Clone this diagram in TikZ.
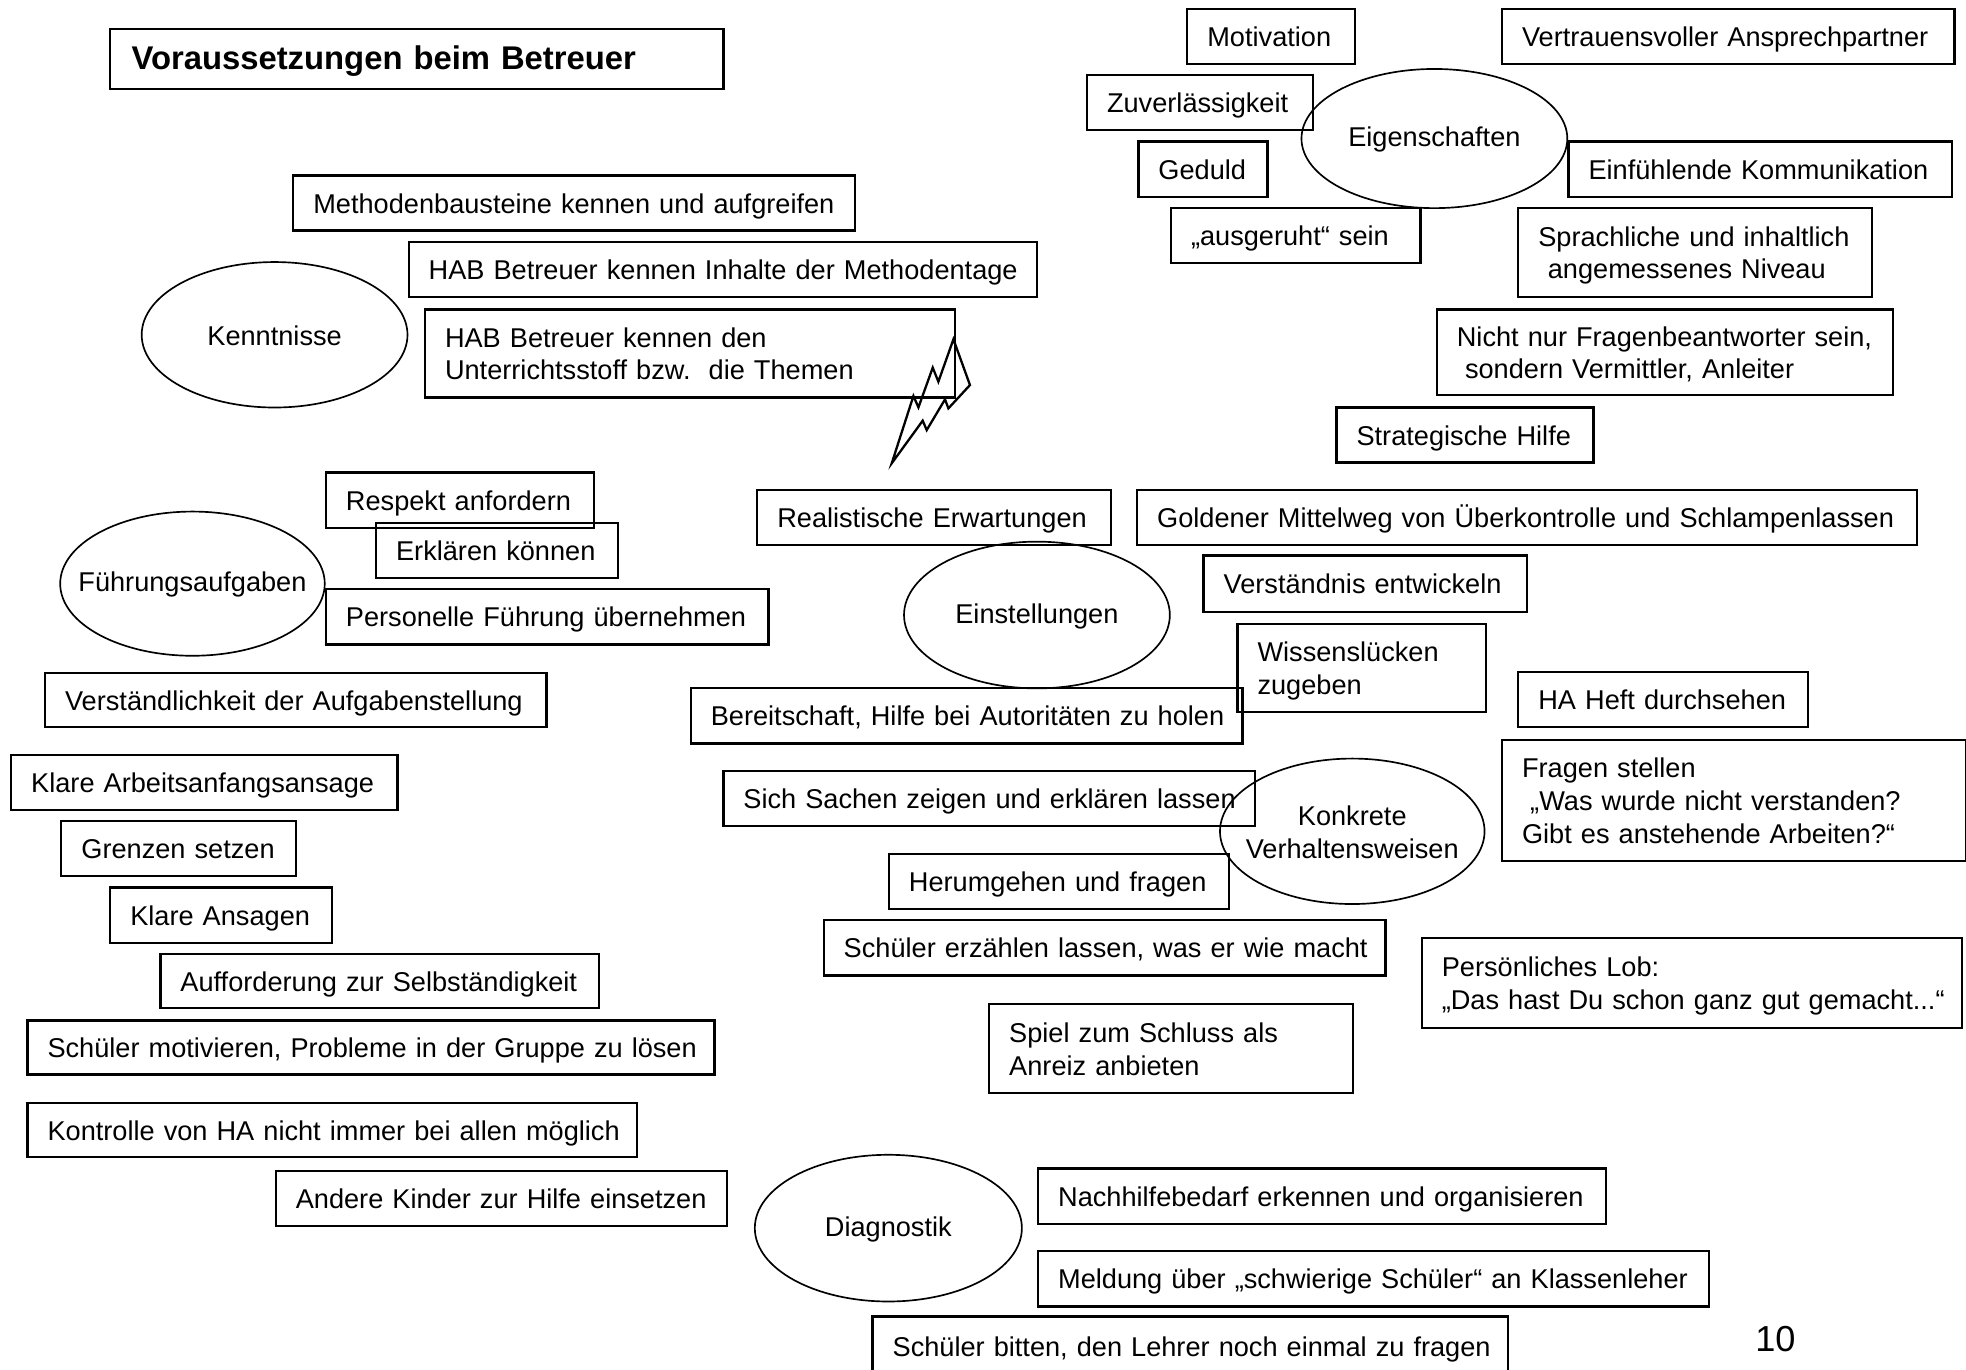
\documentclass[tikz,border=0pt]{standalone}
\usepackage{fontspec}
\setmainfont{Liberation Sans}
\usetikzlibrary{shapes.geometric}
\tikzset{
  box/.style={draw, line width=1.1pt, rectangle, inner xsep=9.6pt, inner ysep=2pt, align=left,
              font=\fontsize{13}{15.6}\selectfont},
  oval/.style={draw, line width=0.8pt, ellipse, inner sep=0pt},
  ovaltext/.style={font=\fontsize{13}{15.6}\selectfont, align=center},
  bolt/.style={draw, line width=1.1pt, line join=miter}
}
\newcommand\keeplines[1]{\makebox[0pt][l]{\raisebox{-1.7pt}[\height][\depth]{\begin{tabular}{@{}l@{}}#1\end{tabular}}}}
\newcommand\bx[6]{%
  \pgfmathsetlengthmacro\bxw{(#4-#2)*0.6pt}%
  \pgfmathsetlengthmacro\bxh{(#5-#3)*0.6pt}%
  \pgfmathsetlengthmacro\bxtw{(#4-#2-32)*0.6pt}%
  \node[box, minimum width=\bxw, minimum height=\bxh, text width=\bxtw, anchor=north west] (#1) at (#2,#3) {\keeplines{#6}};}
\newcommand\el[6]{%
  \pgfmathsetlengthmacro\bxw{(#4-#2)*0.6pt}%
  \pgfmathsetlengthmacro\bxh{(#5-#3)*0.6pt}%
  \node[oval, minimum width=\bxw, minimum height=\bxh, label={[ovaltext, yshift=-0.6pt]center:#6}] (#1) at ({(#2+#4)/2},{(#3+#5)/2}) {};}
\begin{document}
\begin{tikzpicture}[x=0.6pt, y=-0.6pt]
\useasboundingbox (0,0) rectangle (1568,1092);

% title
\pgfmathsetlengthmacro\bxw{(576-87)*0.6pt}
\pgfmathsetlengthmacro\bxh{(70-22)*0.6pt}
\pgfmathsetlengthmacro\bxtw{(576-87-34)*0.6pt}
\node[box, inner xsep=10.2pt, minimum width=\bxw, minimum height=\bxh, text width=\bxtw, anchor=north west,
      font=\fontsize{15.7}{18}\selectfont\bfseries] (title) at (87,22) {\keeplines{Voraussetzungen beim Betreuer}};

% Eigenschaften cluster
\bx{mot}{946}{6}{1080}{50}{Motivation}
\bx{vert}{1197}{6}{1558}{50}{Vertrauensvoller Ansprechpartner}
\bx{zuv}{866}{59}{1046}{103}{Zuverlässigkeit}
\el{eig}{1038}{55}{1250}{166}{Eigenschaften}
\bx{ged}{907}{112}{1010}{156}{Geduld}
\bx{einf}{1250}{112}{1556}{156}{Einfühlende Kommunikation}
\bx{ausg}{933}{165}{1132}{209}{„ausgeruht“ sein}
\bx{spr}{1210}{165}{1492}{236}{Sprachliche und inhaltlich\\\hspace*{0.35em}angemessenes Niveau}
\bx{nicht}{1145}{246}{1509}{314}{Nicht nur Fragenbeantworter sein,\\\hspace*{0.3em}sondern Vermittler, Anleiter}
\bx{strat}{1065}{324}{1270}{368}{Strategische Hilfe}

% Kenntnisse cluster
\bx{meth}{233}{139}{681}{183}{Methodenbausteine kennen und aufgreifen}
\bx{habi}{325}{192}{826}{236}{HAB Betreuer kennen Inhalte der Methodentage}
\el{kenn}{113}{209}{325}{325}{Kenntnisse}
\bx{habu}{338}{246}{761}{316}{HAB Betreuer kennen den\\Unterrichtsstoff bzw.\ \ die Themen}
\coordinate (b1) at (760.4,270.6);
\coordinate (b2) at (773.6,307.1);
\coordinate (b3) at (756.4,325.7);
\coordinate (b4) at (753.7,318.5);
\coordinate (b5) at (739.1,343.0);
\coordinate (b6) at (735.9,335.5);
\coordinate (b7) at (711.2,369.5);
\coordinate (b8) at (728.5,315.8);
\coordinate (b9) at (732.5,324.9);
\coordinate (b10) at (743.9,293.2);
\coordinate (b11) at (748.4,304.4);
\draw[bolt] (b1) -- (b2) -- (b3) -- (b4) -- (b5) -- (b6) -- (b7) -- (b8) -- (b9) -- (b10) -- (b11) -- cycle;

% Fuehrungsaufgaben cluster
\bx{resp}{259}{376}{473}{420}{Respekt anfordern}
\bx{erkl}{299}{416}{492}{460}{Erklären können}
\el{fuehr}{48}{408}{259}{523}{Führungsaufgaben}
\bx{pers}{259}{469}{612}{513}{Personelle Führung übernehmen}
\bx{verst}{35}{536}{435}{579}{Verständlichkeit der Aufgabenstellung}
\bx{klarea}{8}{601}{316}{645}{Klare Arbeitsanfangsansage}
\bx{grenz}{48}{654}{235}{698}{Grenzen setzen}
\bx{klar}{87}{707}{264}{751}{Klare Ansagen}
\bx{auff}{127}{760}{477}{803}{Aufforderung zur Selbständigkeit}
\bx{motiv}{21}{813}{569}{856}{Schüler motivieren, Probleme in der Gruppe zu lösen}
\bx{kontr}{21}{879}{507}{922}{Kontrolle von HA nicht immer bei allen möglich}
\bx{ander}{219}{933}{579}{977}{Andere Kinder zur Hilfe einsetzen}

% Diagnostik cluster
\el{diag}{602}{921}{815}{1038}{Diagnostik}
\bx{nach}{827}{931}{1280}{975}{Nachhilfebedarf erkennen und organisieren}
\bx{meld}{827}{997}{1362}{1041}{Meldung über „schwierige Schüler“ an Klassenleher}
\bx{bitt}{695}{1049}{1202}{1097}{Schüler bitten, den Lehrer noch einmal zu fragen}

% Einstellungen cluster
\bx{real}{603}{390}{885}{434}{Realistische Erwartungen}
\bx{gold}{906}{390}{1528}{434}{Goldener Mittelweg von Überkontrolle und Schlampenlassen}
\el{einst}{721}{432}{933}{549}{Einstellungen}
\bx{verstd}{959}{442}{1217}{487}{Verständnis entwickeln}
\bx{wiss}{986}{497}{1184}{567}{Wissenslücken\\zugeben}
\bx{bereit}{550}{548}{990}{592}{Bereitschaft, Hilfe bei Autoritäten zu holen}

% Konkrete Verhaltensweisen cluster
\bx{heft}{1210}{535}{1441}{579}{HA Heft durchsehen}
\bx{frag}{1197}{589}{1567}{686}{Fragen stellen\\\hspace*{0.3em}„Was wurde nicht verstanden?\\Gibt es anstehende Arbeiten?“}
\bx{sich}{576}{614}{1000}{658}{Sich Sachen zeigen und erklären lassen}
\el{konk}{973}{605}{1184}{721}{Konkrete\\Verhaltensweisen}
\bx{herum}{708}{680}{979}{724}{Herumgehen und fragen}
\bx{erz}{656}{733}{1104}{777}{Schüler erzählen lassen, was er wie macht}
\bx{lob}{1133}{747}{1564}{819}{Persönliches Lob:\\„Das hast Du schon ganz gut gemacht...“}
\bx{spiel}{788}{800}{1078}{871}{Spiel zum Schluss als\\Anreiz anbieten}

% page number
\node[font=\fontsize{17.3}{20}\selectfont, inner sep=0pt] (pnum) at (1416,1068) {10};
\end{tikzpicture}
\end{document}
